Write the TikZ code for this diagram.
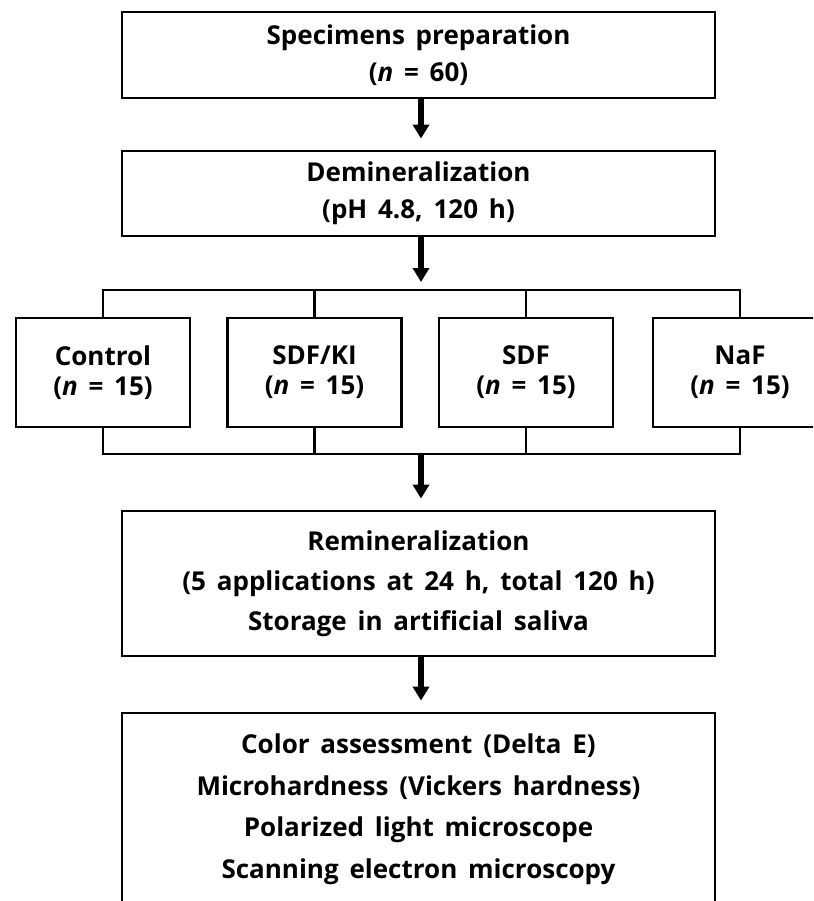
\documentclass[tikz,border=0pt]{standalone}
\usepackage{fontspec}
\setmainfont{Open Sans}[WordSpace=1.6]
\usetikzlibrary{arrows.meta}
\begin{document}
\begin{tikzpicture}[x=1pt, y=-1pt,
  box/.style={draw, line width=2.8pt, align=center, inner sep=0pt,
    font=\fontsize{26}{37}\selectfont\bfseries, minimum width=593pt},
  grp/.style={draw, line width=2.8pt, align=center, inner sep=0pt,
    font=\fontsize{26}{30}\selectfont\bfseries, minimum width=174pt, minimum height=109pt},
  arr/.style={line width=5.5pt, -{Triangle[width=16pt,length=14pt]}, shorten >=11pt},
  conn/.style={line width=2.3pt}]
  \clip (0,0) rectangle (813,901);
  % main steps
  \node[box, minimum height=86pt] (prep) at (418.5,55) {Specimens preparation\\(\textit{n} = 60)};
  \node[box, minimum height=85pt] (demin) at (418.5,193.5) {Demineralization\\(pH 4.8, 120 h)};
  % groups
  \node[grp] (control) at (103,372.5) {Control\\(\textit{n} = 15)};
  \node[grp] (sdfki) at (314.5,372.5) {SDF/KI\\(\textit{n} = 15)};
  \node[grp] (sdf) at (526,372.5) {SDF\\(\textit{n} = 15)};
  \node[grp] (naf) at (740,372.5) {NaF\\(\textit{n} = 15)};
  \coordinate (split) at (421,290);
  \coordinate (join) at (421,454);
  % after treatment
  \node[box, minimum height=145pt, font=\fontsize{26}{40}\selectfont\bfseries] (remin) at (418.5,583.5)
    {Remineralization\\(5 applications at 24 h, total 120 h)\\Storage in artificial saliva};
  \node[box, minimum height=192pt, font=\fontsize{26}{41.5}\selectfont\bfseries] (tests) at (418.5,809)
    {Color assessment (Delta E)\\Microhardness (Vickers hardness)\\Polarized light microscope\\Scanning electron microscopy};
  % connectors
  \draw[arr] (prep.south -| split) -- (demin.north -| split);
  \draw[arr, shorten >=8pt] (demin.south -| split) -- (split);
  \draw[conn] (control.north) -- (control.north |- split) -- (naf.north |- split) -- (naf.north);
  \draw[conn] (sdfki.north) -- (sdfki.north |- split);
  \draw[conn] (sdf.north) -- (sdf.north |- split);
  \draw[conn] (control.south) -- (control.south |- join) -- (naf.south |- join) -- (naf.south);
  \draw[conn] (sdfki.south) -- (sdfki.south |- join);
  \draw[conn] (sdf.south) -- (sdf.south |- join);
  \draw[arr] (join) -- (remin.north -| join);
  \draw[arr] (remin.south -| join) -- (tests.north -| join);
\end{tikzpicture}
\end{document}
